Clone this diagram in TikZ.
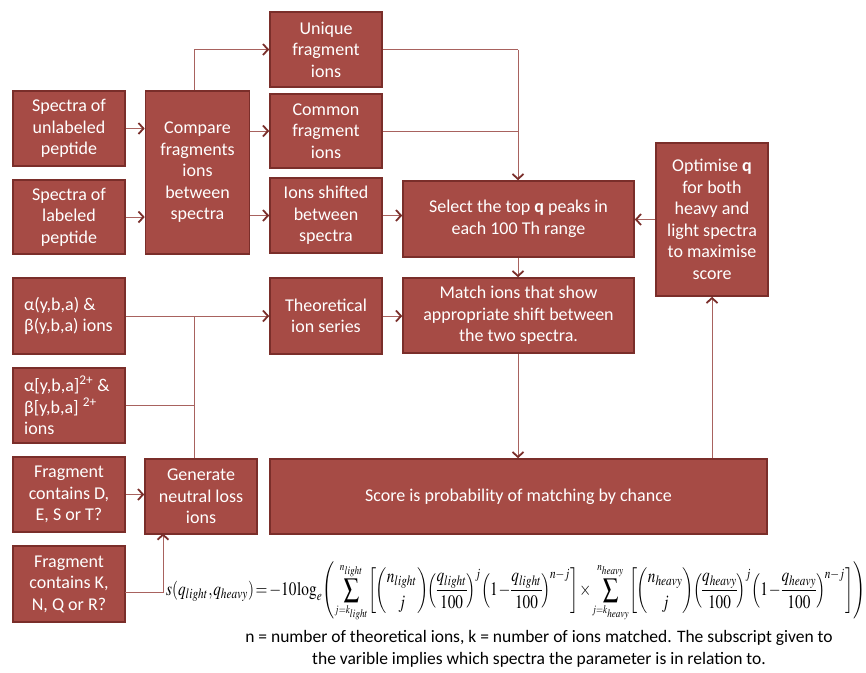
\documentclass[tikz,border=0pt]{standalone}
\usepackage{mathptmx}
\usepackage{amsmath}
\usepackage[no-math]{fontspec}
\setmainfont{Carlito}
\usepackage{graphicx}
\usetikzlibrary{arrows.meta}
\definecolor{boxfill}{HTML}{A64B45}
\definecolor{boxline}{HTML}{7A2E2A}
\definecolor{connline}{HTML}{A8625E}
\definecolor{tipcol}{HTML}{7A2E2A}
\tikzset{
  box/.style={draw=boxline, fill=boxfill, line width=1.6pt, text=white, align=center,
    inner sep=0pt, font=\fontsize{18}{21.5}\selectfont},
  lefttext/.style={text=white, align=left, inner sep=0pt, font=\fontsize{18}{21.5}\selectfont, anchor=west},
  conn/.style={draw=connline, line width=1pt},
  arr/.style={conn, -{Straight Barb[length=5pt, width=11pt, line width=1.8pt, color=tipcol]}},
}
\newcommand{\tinylim}[1]{{\scriptscriptstyle #1}}
\begin{document}
\begin{tikzpicture}[x=1pt, y=-1pt]
\useasboundingbox (0,0) rectangle (866,672);
% boxes
\node[box, minimum width=112, minimum height=75] (A1) at (69,128.5) {Spectra of\\unlabeled\\peptide};
\node[box, minimum width=112, minimum height=74] (A2) at (69,217) {Spectra of\\labeled\\peptide};
\node[box, minimum width=104, minimum height=163] (C) at (197.5,172.5) {Compare\\fragments\\ions\\between\\spectra};
\node[box, minimum width=112, minimum height=75] (U) at (326,49.5) {Unique\\fragment\\ions};
\node[box, minimum width=112, minimum height=74] (Cm) at (326,131) {Common\\fragment\\ions};
\node[box, minimum width=112, minimum height=75] (Is) at (326,215.5) {Ions shifted\\between\\spectra};
\node[box, minimum width=231, minimum height=76] (Sel) at (518.5,219) {Select the top \textbf{q} peaks in\\each 100 Th range};
\node[box, minimum width=112, minimum height=153] (O) at (712,219.5) {Optimise \textbf{q}\\for both\\heavy and\\light spectra\\to maximise\\score};
\node[box, minimum width=112, minimum height=76] (Al1) at (69,316) {};
\node[lefttext] (Al1t) at (24,316) {α(y,b,a) \&\\β(y,b,a) ions};
\node[box, minimum width=112, minimum height=76] (Th) at (326,316) {Theoretical\\ion series};
\node[box, minimum width=231, minimum height=75] (M) at (518.5,315.5) {Match ions that show\\appropriate shift between\\the two spectra.};
\node[box, minimum width=112, minimum height=75] (Al2) at (69,405.5) {};
\node[lefttext] (Al2t) at (24,405.5) {α[y,b,a]\textsuperscript{2+} \&\\β[y,b,a] \textsuperscript{2+}\\ions};
\node[box, minimum width=112, minimum height=75] (F1) at (69,494.5) {Fragment\\contains D,\\E, S or T?};
\node[box, minimum width=112, minimum height=75] (G) at (201,496.5) {Generate\\neutral loss\\ions};
\node[box, minimum width=497, minimum height=75] (S) at (518.5,496.5) {Score is probability of matching by chance};
\node[box, minimum width=112, minimum height=76] (F2) at (69,584) {Fragment\\contains K,\\N, Q or R?};
% formula
\node[anchor=west, inner sep=0pt] (Fm) at (166,592) {\resizebox*{699pt}{60pt}{\thickmuskip=2mu\medmuskip=1mu\thinmuskip=1mu\nulldelimiterspace=0pt$\displaystyle s(q_{light},q_{heavy})=-10\log_e\!\left(\sum_{\tinylim{j=k_{light}}}^{\tinylim{n_{light}}}\!\left[\!\binom{n_{light}}{j}\!\!\left(\frac{q_{light}}{100}\right)^{\!j}\!\left(1-\frac{q_{light}}{100}\right)^{\!n-j}\right]\times\sum_{\tinylim{j=k_{heavy}}}^{\tinylim{n_{heavy}}}\!\left[\!\binom{n_{heavy}}{j}\!\!\left(\frac{q_{heavy}}{100}\right)^{\!j}\!\left(1-\frac{q_{heavy}}{100}\right)^{\!n-j}\right]\right)$}};
\node[align=center, inner sep=0pt, font=\fontsize{17.5}{22}\selectfont] (cap) at (539,649) {n = number of theoretical ions, k = number of ions matched. The subscript given to\\the varible implies which spectra the parameter is in relation to.};
% connectors
\coordinate (J) at (194,316);
\coordinate (T) at (518,49.5);
\coordinate (F2o) at (125,592);
\draw[arr] (A1.east) -- (A1.east -| C.west);
\draw[arr] (A2.east) -- (A2.east -| C.west);
\draw[arr] (C.north -| J) |- (U.west);
\draw[arr] (C.east |- Cm.west) -- (Cm.west);
\draw[arr] (C.east |- Is.west) -- (Is.west);
\draw[conn] (U.east) -- (T);
\draw[conn] (Cm.east) -- (Cm.east -| T);
\draw[arr] (T) -- (T |- Sel.north);
\draw[arr] (Is.east) -- (Is.east -| Sel.west);
\draw[arr] (O.west) -- (O.west -| Sel.east);
\draw[arr] (Sel.south -| T) -- (M.north -| T);
\draw[arr] (Th.east) -- (Th.east -| M.west);
\draw[arr] (Al1.east) -- (Al1.east -| Th.west);
\draw[conn] (J) -- (J |- G.north);
\draw[conn] (Al2.east) -- (Al2.east -| J);
\draw[arr] (F1.east) -- (F1.east -| G.west);
\draw[arr] (F2o) -| (163,533.5);
\draw[arr] (M.south -| T) -- (S.north -| T);
\draw[arr] (S.north -| O) -- (O.south);
\end{tikzpicture}
\end{document}
